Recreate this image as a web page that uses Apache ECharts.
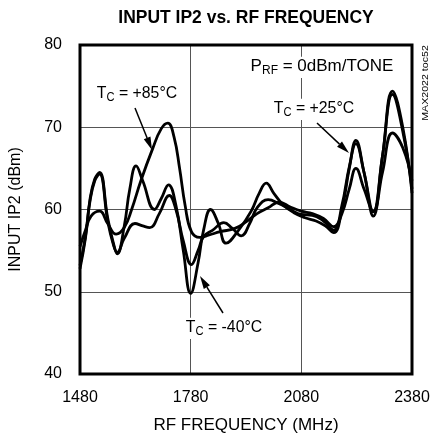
<!DOCTYPE html>
<html><head><meta charset="utf-8">
<script src="https://cdn.jsdelivr.net/npm/echarts@6/dist/echarts.min.js"></script>
<style>html,body{margin:0;padding:0;background:#fff}#c{width:430px;height:439px}</style>
</head><body><div id="c"></div>
<script>
// ---- data ----
const xTicks = [1480, 1780, 2080, 2380];
const yTicks = [40, 50, 60, 70, 80];

const freqM40 = [1480,1495,1507,1520,1533,1555,1570,1581,1600,1615,1632,1650,1682,1700,1720,1740,1760,1780,1800,1815,1834,1855,1876,1910,1944,1966,1985,2005,2030,2060,2090,2120,2145,2168,2190,2210,2228,2250,2275,2300,2327,2355,2380];
const ip2M40  = [52.8,56.6,61.2,63.7,64.5,59.0,56.0,54.6,58.0,62.5,65.3,63.5,60.0,61.3,63.0,60.5,55.0,49.8,53.5,57.5,60.0,58.3,55.9,57.5,59.8,62.0,63.2,62.0,60.6,59.6,59.0,58.6,58.0,57.2,60.0,65.0,68.4,64.5,59.2,66.5,74.4,70.0,62.0];

const freqP25 = [1480,1495,1507,1520,1533,1555,1570,1581,1600,1629,1650,1669,1695,1722,1740,1760,1782,1800,1815,1840,1870,1893,1917,1940,1960,1990,2020,2050,2080,2110,2140,2168,2190,2210,2228,2250,2275,2300,2327,2355,2380];
const ip2P25  = [53.2,56.8,61.0,63.5,64.3,58.6,55.8,54.8,56.5,58.3,58.0,57.8,59.5,61.7,60.0,56.2,53.3,55.0,56.7,57.5,58.4,57.7,56.8,58.3,60.2,61.2,60.7,60.0,59.4,59.3,58.6,57.5,60.5,65.2,68.0,64.5,59.7,66.5,74.0,69.5,62.5];

const freqP85 = [1480,1495,1510,1533,1555,1578,1600,1620,1645,1677,1700,1718,1735,1750,1765,1782,1805,1830,1860,1900,1930,1960,1990,2020,2050,2080,2110,2140,2168,2190,2210,2228,2250,2275,2300,2327,2355,2380];
const ip2P85  = [55.5,57.5,59.2,59.8,58.3,57.0,57.8,60.0,63.5,67.4,69.8,70.5,68.8,65.0,60.5,57.3,56.6,56.9,57.3,57.7,58.5,59.5,60.2,60.9,60.3,59.8,59.5,58.9,57.9,59.5,62.5,65.0,62.5,59.8,64.5,69.3,67.5,63.5];

const titleText = 'INPUT IP2 vs. RF FREQUENCY';
const xName = 'RF FREQUENCY (MHz)';
const yName = 'INPUT IP2 (dBm)';

// ---- chart ----
const FONT = "'Liberation Sans',Arial,sans-serif";
const chart = echarts.init(document.getElementById('c'), null, {renderer: 'canvas'});
const pairs = (xs, ys) => xs.map((x, i) => [x, ys[i]]);
const lineSeries = (name, xs, ys) => ({
  name, type: 'line', data: pairs(xs, ys), smooth: 0.45, showSymbol: false, symbol: 'none',
  lineStyle: {color: '#000', width: 2.8}, z: 3, animation: false
});

const ctx = document.createElement('canvas').getContext('2d');
function tw(t, size, weight) { ctx.font = (weight || 'normal') + ' ' + size + 'px ' + FONT; return ctx.measureText(t).width; }
function txt(x, y, t, size, opts) {
  opts = opts || {};
  return Object.assign({type: 'text', x: x, y: y, z: 12, silent: true,
    style: {text: t, fontSize: size, fontFamily: FONT, fontWeight: opts.weight || 'normal', fill: '#000',
      align: opts.align || 'left', verticalAlign: opts.valign || 'middle',
      textAlign: opts.align || 'left', textVerticalAlign: opts.valign || 'middle'}}, opts.el || {});
}
function subLabel(cx, cy, main, sub, rest, size, subSize, sx) {
  sx = sx || 1;
  const w1 = tw(main, size) * sx, w2 = tw(sub, subSize) * sx, w3 = tw(rest, size) * sx;
  const x0 = cx - (w1 + w2 + w3) / 2;
  const s = {scaleX: sx};
  return [
    {type: 'rect', z: 11, silent: true, shape: {x: x0 - 2, y: cy - size * 0.55, width: w1 + w2 + w3 + 4, height: size * 1.25}, style: {fill: '#fff'}},
    txt(x0, cy, main, size, {el: s}),
    txt(x0 + w1, cy + size * 0.28, sub, subSize, {el: s}),
    txt(x0 + w1 + w2, cy, rest, size, {el: s})
  ];
}
function arrow(x1, y1, x2, y2) {
  const a = Math.atan2(y2 - y1, x2 - x1), L = 13, W = 3.6;
  const bx = x2 - L * Math.cos(a), by = y2 - L * Math.sin(a);
  const px = -Math.sin(a) * W, py = Math.cos(a) * W;
  return [
    {type: 'line', z: 12, silent: true, shape: {x1: x1, y1: y1, x2: bx, y2: by}, style: {stroke: '#000', lineWidth: 1.5}},
    {type: 'polygon', z: 12, silent: true, shape: {points: [[x2, y2], [bx + px, by + py], [bx - px, by - py]]}, style: {fill: '#000'}}
  ];
}

const graphics = [].concat(
  [txt(246, 18, titleText, 19, {weight: 'bold', align: 'center', el: {scaleX: 0.92}})],
  subLabel(322, 66, 'P', 'RF', ' = 0dBm/TONE', 17, 12),
  subLabel(137, 93, 'T', 'C', ' = +85°C', 17, 12, 0.93),
  subLabel(314, 108, 'T', 'C', ' = +25°C', 17, 12, 0.93),
  subLabel(224, 327, 'T', 'C', ' = -40°C', 17, 12, 0.93),
  arrow(135, 108, 152, 150),
  arrow(317, 123, 349, 153),
  arrow(223, 313, 200, 276),
  [txt(426, 83, 'MAX2022 toc52', 8.5, {align: 'center', el: {rotation: Math.PI / 2, scaleX: 1.25}})]
);

chart.setOption({
  animation: false,
  backgroundColor: '#fff',
  grid: {left: 80, right: 18, top: 45, bottom: 65, show: true, borderColor: '#000', borderWidth: 3, backgroundColor: 'transparent', z: 4, containLabel: false, outerBoundsMode: 'none'},
  xAxis: {
    type: 'value', min: xTicks[0], max: xTicks[xTicks.length - 1], interval: xTicks[1] - xTicks[0],
    name: xName, nameLocation: 'middle', nameGap: 43,
    nameTextStyle: {fontSize: 17, fontFamily: FONT, color: '#000'},
    axisLine: {show: false}, axisTick: {show: false},
    axisLabel: {fontSize: 16, fontFamily: FONT, color: '#000', margin: 16, formatter: v => String(v)},
    splitLine: {show: true, lineStyle: {color: '#555', width: 1}}
  },
  yAxis: {
    type: 'value', min: yTicks[0], max: yTicks[yTicks.length - 1], interval: yTicks[1] - yTicks[0],
    name: yName, nameLocation: 'middle', nameGap: 56, nameRotate: 90,
    nameTextStyle: {fontSize: 16, fontFamily: FONT, color: '#000'},
    axisLine: {show: false}, axisTick: {show: false},
    axisLabel: {fontSize: 16, fontFamily: FONT, color: '#000', margin: 18, formatter: v => String(v)},
    splitLine: {show: true, lineStyle: {color: '#555', width: 1}}
  },
  series: [
    lineSeries('TC = -40°C', freqM40, ip2M40),
    lineSeries('TC = +25°C', freqP25, ip2P25),
    lineSeries('TC = +85°C', freqP85, ip2P85)
  ],
  graphic: graphics
});
</script></body></html>
